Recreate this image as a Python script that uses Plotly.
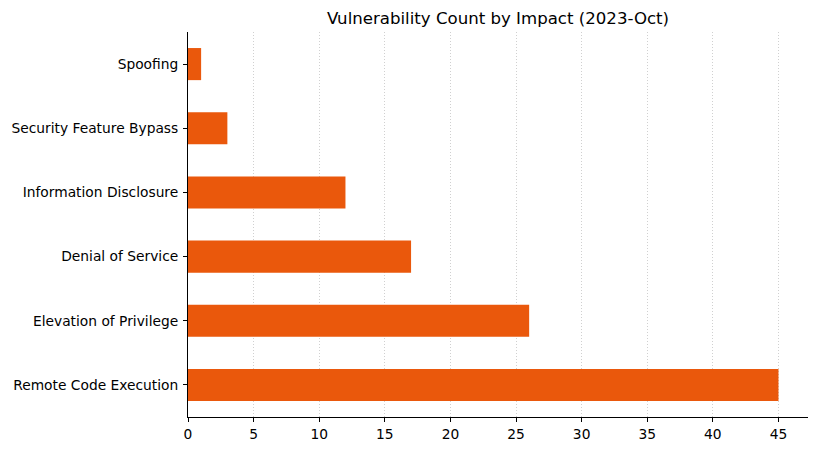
import plotly.graph_objects as go

categories = ["Remote Code Execution", "Elevation of Privilege", "Denial of Service",
              "Information Disclosure", "Security Feature Bypass", "Spoofing"]
counts = [45, 26, 17, 12, 3, 1]
x_ticks = [0, 5, 10, 15, 20, 25, 30, 35, 40, 45]

fig = go.Figure(go.Bar(
    x=counts, y=categories, orientation="h",
    marker=dict(color="#EA580C", line=dict(width=0)),
    width=0.5,
))

fig.update_layout(
    width=817, height=451,
    margin=dict(l=188, r=9, t=32, b=34),
    paper_bgcolor="white", plot_bgcolor="white",
    font=dict(family="DejaVu Sans", size=13.8, color="black"),
    title=dict(text="Vulnerability Count by Impact (2023-Oct)", x=(188 + 808) / 2 / 817,
               xanchor="center", y=1 - 18 / 451, yanchor="middle",
               font=dict(size=16.6, family="DejaVu Sans")),
    showlegend=False,
)
fig.update_xaxes(
    range=[0, 47.25], tickvals=x_ticks, ticks="outside", ticklen=4, tickcolor="black",
    showline=True, linecolor="black", linewidth=1,
    showgrid=True, gridcolor="#d0d0d0", griddash="1px,2px", gridwidth=1,
    zeroline=False,
)
fig.update_yaxes(
    categoryorder="array", categoryarray=categories, range=[-0.5, 5.5],
    ticks="outside", ticklen=4, tickcolor="black", ticklabelstandoff=2,
    showline=True, linecolor="black", linewidth=1, showgrid=False,
)

fig.write_html("out.html", config={"displayModeBar": False},
               post_script="document.body.style.margin='0';document.body.style.overflow='hidden';")
